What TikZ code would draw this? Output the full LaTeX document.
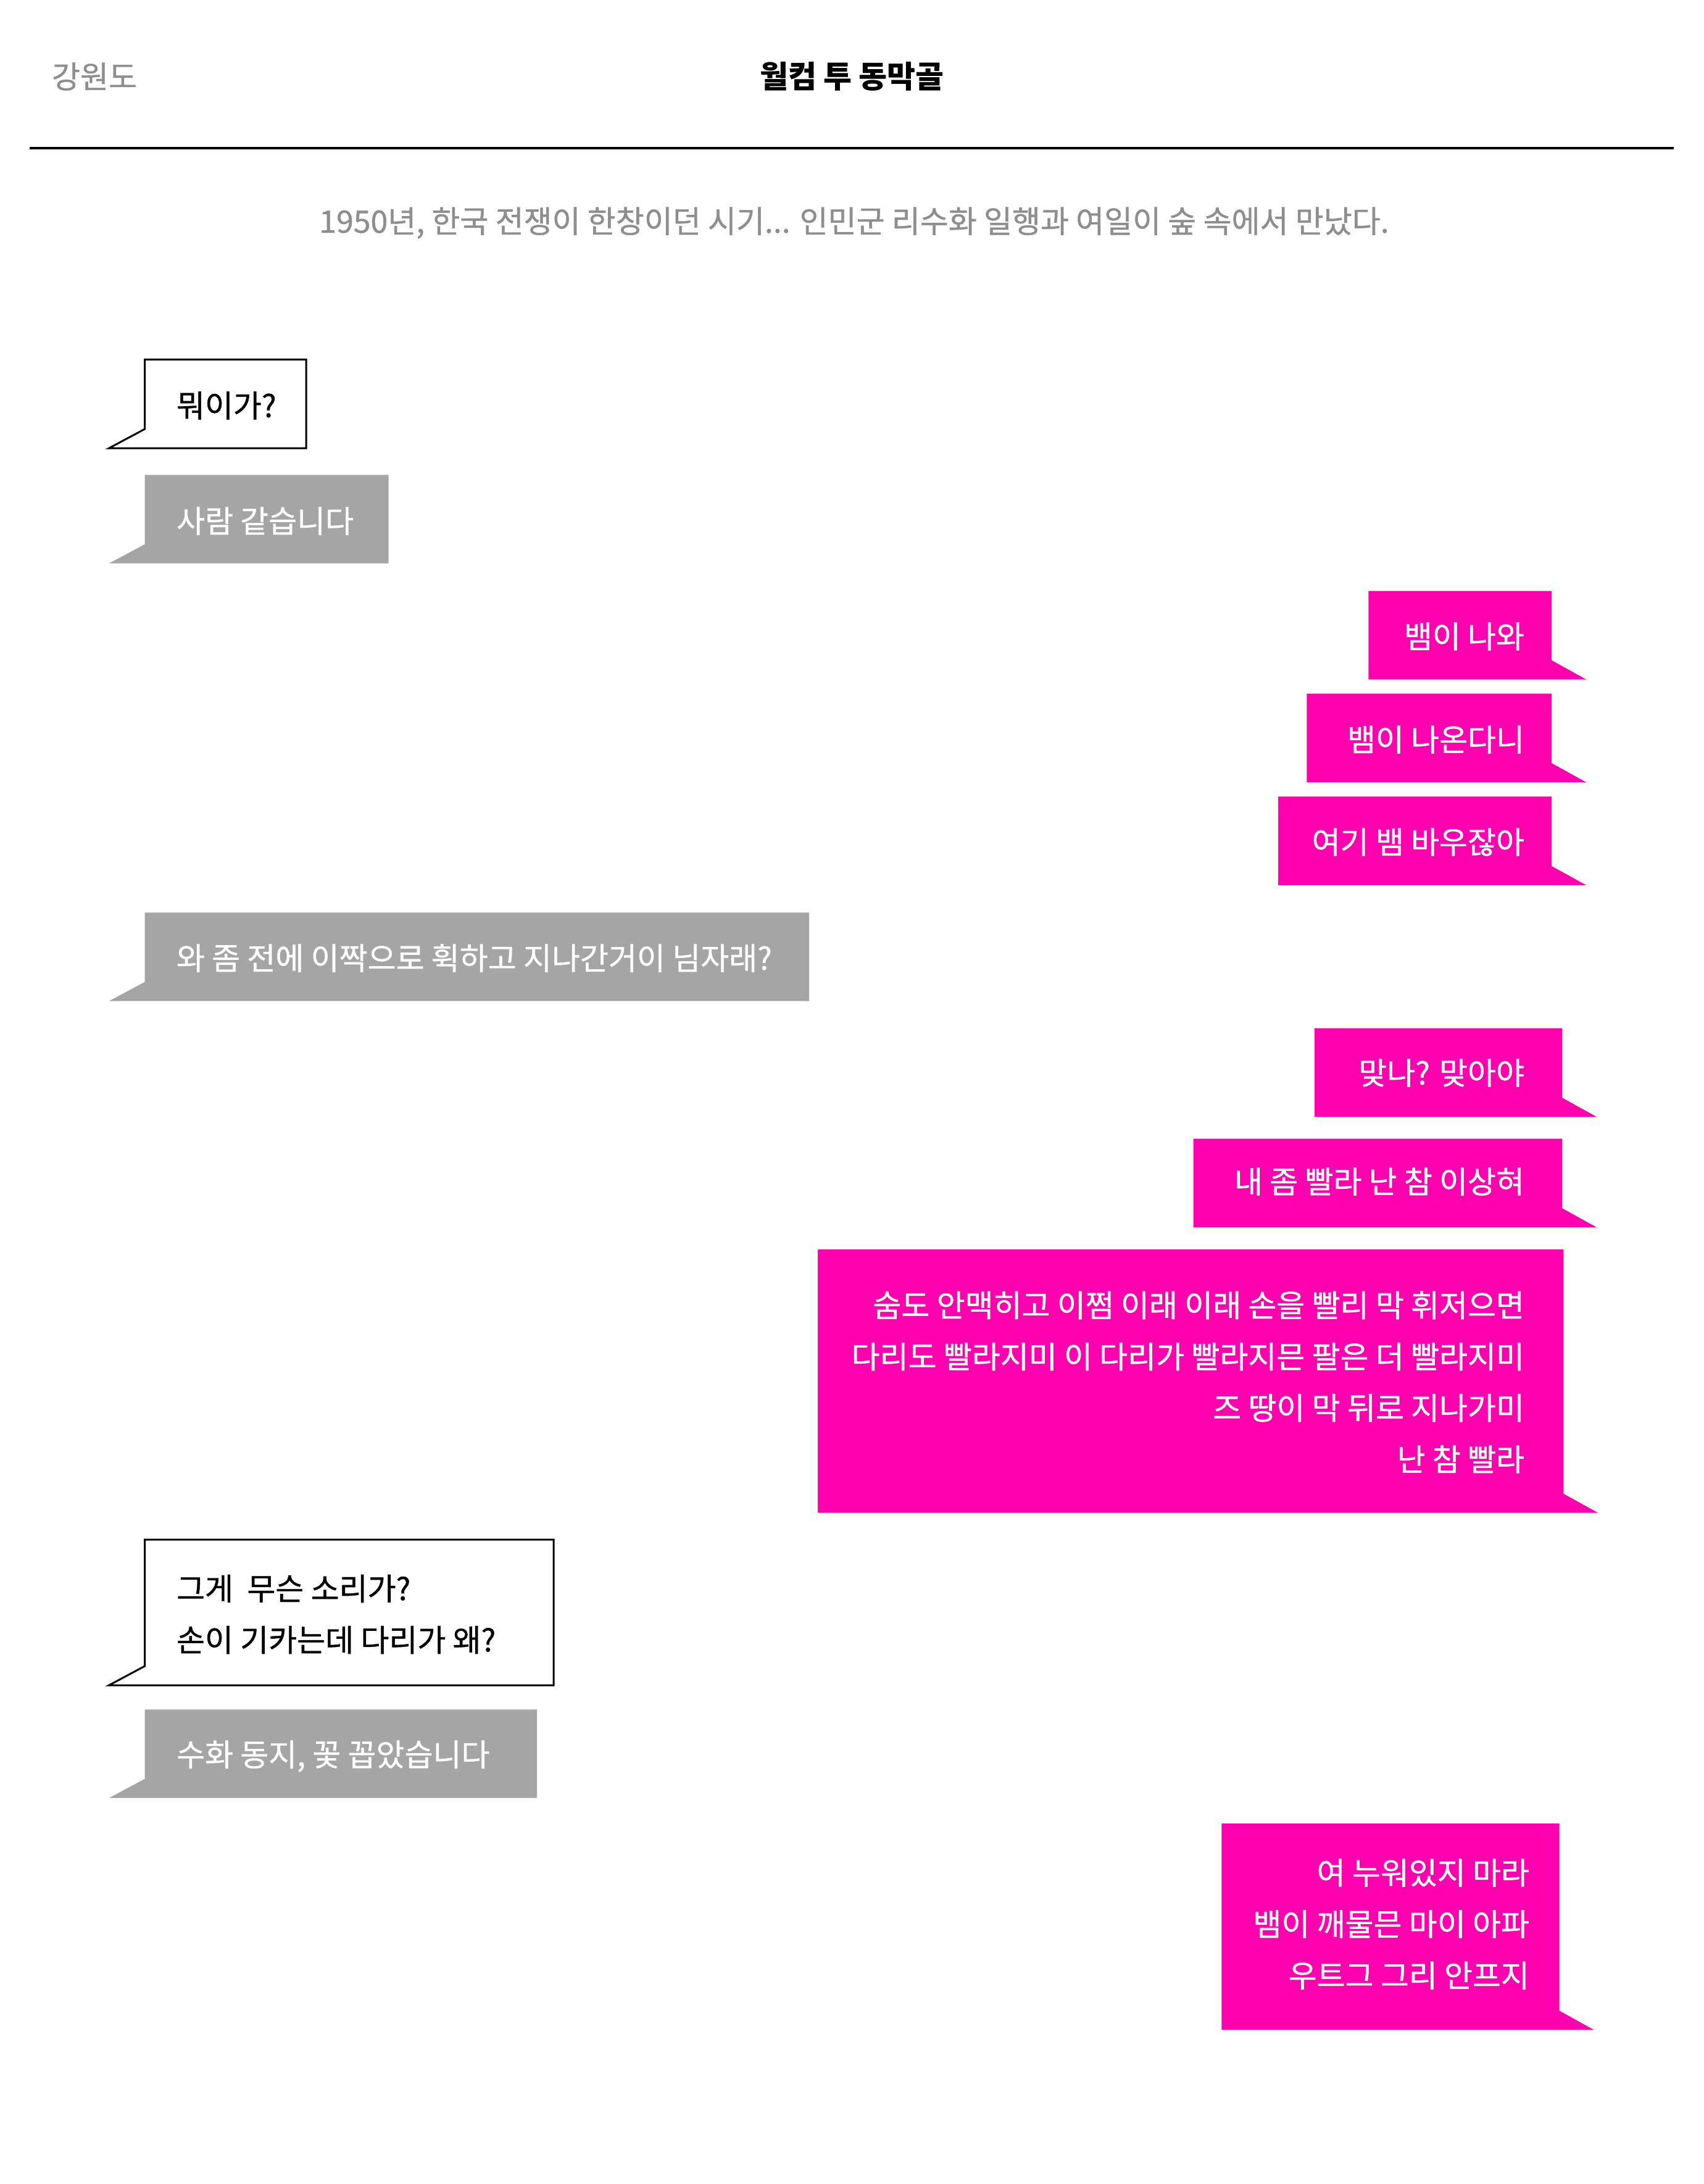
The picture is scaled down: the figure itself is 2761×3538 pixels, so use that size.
\documentclass[tikz,border=0pt]{standalone}
\usepackage{fontspec}
\setmainfont{Noto Sans CJK KR}
\newfontfamily\medfont{Noto Sans CJK KR}[FakeBold=0.8]
\definecolor{pinkbox}{HTML}{FF00AF}
\definecolor{graybox}{HTML}{A5A5A5}
\definecolor{headgray}{HTML}{8E8E8E}
\newcommand{\bubL}[5]{\path[#1] (#2,#3) -- (#4,#3) -- (#4,#5) -- (#2-58,#5) -- (#2,#5-31) -- cycle;}
\newcommand{\bubR}[5]{\path[#1] (#2,#3) -- (#4,#3) -- (#4,#5-31) -- (#4+56,#5) -- (#2,#5) -- cycle;}
\begin{document}
\begin{tikzpicture}[x=0.25pt,y=-0.25pt,
  every node/.style={inner sep=0pt,outer sep=0pt,font=\fontsize{12.5pt}{20.8pt}\selectfont\medfont},
  whitebub/.style={fill=white,draw=black,line width=0.75pt},
  graybub/.style={fill=graybox},
  pinkbub/.style={fill=pinkbox},
  ltext/.style={anchor=west,align=left},
  rtext/.style={anchor=east,align=right,text=white}]
\useasboundingbox (0,0) rectangle (2761,3538);
\fill[white] (0,0) rectangle (2761,3538);
% header
\node[anchor=west,text=headgray] (region) at (84,124) {강원도};
\node[font=\fontsize{12.5pt}{20.8pt}\selectfont\rmfamily\bfseries] (title) at (1380.5,124) {월컴 투 동막골};
\draw[line width=1pt] (48,240) -- (2712,240);
\node[text=headgray] (intro) at (1384,361) {1950년, 한국 전쟁이 한창이던 시기... 인민군 리수화 일행과 여일이 숲 속에서 만났다.};
% bubbles
\bubL{whitebub}{234.6}{582.3}{496.2}{726}
\node[ltext] (t1) at (286,657) {뭐이가?};
\bubL{graybub}{234.6}{769.3}{629.6}{912.7}
\node[ltext,text=white] (t2) at (286,844) {사람 같습니다};
\bubR{pinkbub}{2217.3}{957.3}{2514.2}{1100.7}
\node[rtext] (t3) at (2470,1031) {뱀이 나와};
\bubR{pinkbub}{2117.3}{1123.7}{2514.2}{1267.3}
\node[rtext] (t4) at (2470,1198) {뱀이 나온다니};
\bubR{pinkbub}{2071.2}{1290.3}{2514.2}{1434}
\node[rtext] (t5) at (2470,1364) {여기 뱀 바우잖아};
\bubL{graybub}{234.6}{1478.3}{1311}{1621.7}
\node[ltext,text=white] (t6) at (286,1552) {와 좀 전에 이짝으로 휙하고 지나간거이 님자래?};
\bubR{pinkbub}{2130.2}{1665.7}{2531.2}{1809.3}
\node[rtext] (t7) at (2470,1738) {맞나? 맞아야};
\bubR{pinkbub}{1933.6}{1844.7}{2531.2}{1988.3}
\node[rtext] (t8) at (2470,1914) {내 좀 빨라 난 참 이상혀};
\bubR{pinkbub}{1325}{2024}{2533.3}{2450.7}
\node[rtext] (t9) at (2470,2239) {숨도 안맥히고 이쩜 이래 이래 손을 빨리 막 휘저으면\\다리도 빨라지미 이 다리가 빨라지믄 팔은 더 빨라지미\\즈 땅이 막 뒤로 지나가미\\난 참 빨라};
\bubL{whitebub}{234.6}{2494}{897.2}{2730}
\node[ltext] (t10) at (286,2615) {그게\ \ 무슨 소리가?\\손이 기카는데 다리가 왜?};
\bubL{graybub}{234.6}{2769.3}{870}{2912.7}
\node[ltext,text=white] (t11) at (286,2845) {수화 동지, 꽃 꼽았습니다};
\bubR{pinkbub}{1979.4}{2954}{2526.7}{3288.3}
\node[rtext] (t12) at (2478,3117) {여 누워있지 마라\\뱀이 깨물믄 마이 아파\\우트그 그리 안프지};
\end{tikzpicture}
\end{document}
